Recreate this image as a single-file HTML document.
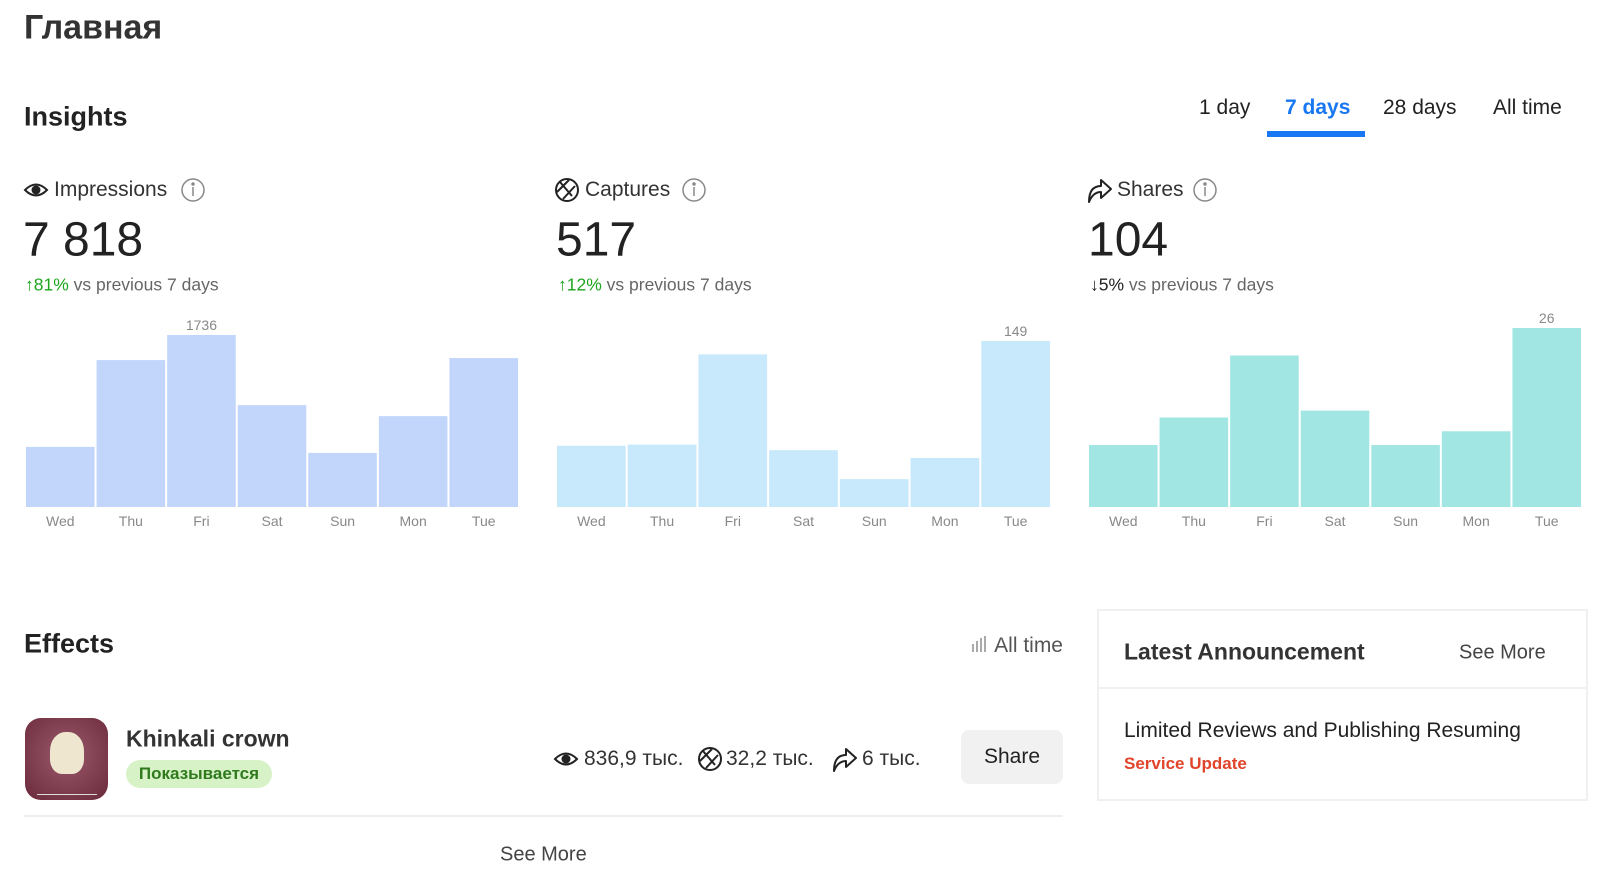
<!DOCTYPE html>
<html><head><meta charset="utf-8"><style>
body{margin:0;width:1600px;height:884px;background:#fff;font-family:"Liberation Sans","Noto Sans CJK SC",sans-serif;color:#222;position:relative;overflow:hidden}
.a{position:absolute;white-space:nowrap}
.t{transform:translateY(-50%)}
svg{position:absolute;left:0;top:0}
</style></head><body>
<div class="a t" style="left:24px;top:28px;font-size:34px;font-weight:bold;color:#333">Главная</div>
<div class="a t" style="left:24px;top:117px;font-size:27px;font-weight:bold;color:#222">Insights</div>
<div class="a t" style="left:1199px;top:108px;font-size:21px">1 day</div>
<div class="a t" style="left:1285px;top:108px;font-size:21px;color:#1877f2;font-weight:bold">7 days</div>
<div class="a" style="left:1267px;top:131px;width:98px;height:6px;background:#1877f2"></div>
<div class="a t" style="left:1383px;top:108px;font-size:21px">28 days</div>
<div class="a t" style="left:1493px;top:108px;font-size:21px">All time</div>

<svg width="1600" height="884">
 <g fill="none" stroke="#222" stroke-width="2"><path d="M25 190 Q36 179 47 190 Q36 201 25 190Z"/><circle cx="36" cy="190" r="3.5" fill="#222"/></g>
 <g stroke="#888" fill="none" stroke-width="1.5"><circle cx="193" cy="190" r="11"/><line x1="193" y1="187" x2="193" y2="196"/><circle cx="193" cy="184" r="1" fill="#888"/></g>
 <g stroke="#222" fill="none" stroke-width="2"><circle cx="567" cy="190" r="11"/><path d="M560 182 L572 196 M557 192 L569 180 M575 186 L563 199"/></g>
 <g stroke="#888" fill="none" stroke-width="1.5"><circle cx="694" cy="190" r="11"/><line x1="694" y1="187" x2="694" y2="196"/><circle cx="694" cy="184" r="1" fill="#888"/></g>
 <g stroke="#222" fill="none" stroke-width="2" stroke-linejoin="round"><path d="M1089 202 Q1089 186 1101 186 L1101 180 L1111 189 L1101 198 L1101 192 Q1093 192 1089 202Z"/></g>
 <g stroke="#888" fill="none" stroke-width="1.5"><circle cx="1205" cy="190" r="11"/><line x1="1205" y1="187" x2="1205" y2="196"/><circle cx="1205" cy="184" r="1" fill="#888"/></g>
 <g fill="#aaa"><rect x="972" y="644" width="2" height="8"/><rect x="976" y="641" width="2" height="11"/><rect x="980" y="638" width="2" height="14"/><rect x="984" y="636" width="2" height="16"/></g>
 <g fill="none" stroke="#222" stroke-width="2"><path d="M555 759 Q566 748 577 759 Q566 770 555 759Z"/><circle cx="566" cy="759" r="3.5" fill="#222"/></g>
 <g stroke="#222" fill="none" stroke-width="2"><circle cx="710" cy="759" r="11"/><path d="M703 751 L715 765 M700 761 L712 749 M718 755 L706 768"/></g>
 <g stroke="#222" fill="none" stroke-width="2" stroke-linejoin="round"><path d="M834 771 Q834 755 846 755 L846 749 L856 758 L846 767 L846 761 Q838 761 834 771Z"/></g>
 <g id="charts"></g>
</svg>

<div class="a t" style="left:54px;top:190px;font-size:21px;color:#333">Impressions</div>
<div class="a t" style="left:23px;top:240px;font-size:48px;color:#222">7 818</div>
<div class="a t" style="left:25px;top:285px;font-size:17.5px;color:#666"><span style="color:#1ea51e">↑81%</span> vs previous 7 days</div>
<div class="a t" style="left:585px;top:190px;font-size:21px;color:#333">Captures</div>
<div class="a t" style="left:556px;top:240px;font-size:48px;color:#222">517</div>
<div class="a t" style="left:558px;top:285px;font-size:17.5px;color:#666"><span style="color:#1ea51e">↑12%</span> vs previous 7 days</div>
<div class="a t" style="left:1117px;top:190px;font-size:21px;color:#333">Shares</div>
<div class="a t" style="left:1088px;top:240px;font-size:48px;color:#222">104</div>
<div class="a t" style="left:1090px;top:285px;font-size:17.5px;color:#666"><span style="color:#222">↓5%</span> vs previous 7 days</div>

<div class="a t" style="left:24px;top:644px;font-size:27px;font-weight:bold;color:#222">Effects</div>
<div class="a t" style="right:537px;top:646px;font-size:21px;color:#555">All time</div>
<div class="a" style="left:25px;top:718px;width:83px;height:82px;border-radius:16px;background:radial-gradient(circle at 50% 45%,#9a5a6c,#6a2a3c)">
 <div style="position:absolute;left:25px;top:14px;width:34px;height:42px;background:#efe6cf;border-radius:45% 45% 35% 35%"></div>
 <div style="position:absolute;left:12px;top:76px;width:60px;height:1px;background:#ddd"></div>
</div>
<div class="a t" style="left:126px;top:739px;font-size:23px;font-weight:bold;color:#333">Khinkali crown</div>
<div class="a" style="left:126px;top:760px;width:146px;height:28px;border-radius:14px;background:#d8f2c8;color:#2e7a1c;font-weight:bold;font-size:17px;line-height:28px;text-align:center">Показывается</div>
<div class="a t" style="left:584px;top:759px;font-size:21px;color:#333">836,9 тыс.</div>
<div class="a t" style="left:726px;top:759px;font-size:21px;color:#333">32,2 тыс.</div>
<div class="a t" style="left:862px;top:759px;font-size:21px;color:#333">6 тыс.</div>
<div class="a" style="left:961px;top:730px;width:102px;height:54px;border-radius:8px;background:#f1f1f1;font-size:21px;line-height:54px;text-align:center;color:#222">Share</div>
<div class="a" style="left:24px;top:815px;width:1039px;height:2px;background:#eee"></div>
<div class="a t" style="left:500px;top:855px;font-size:20px;color:#444">See More</div>

<div class="a" style="left:1097px;top:609px;width:487px;height:188px;border:2px solid #f0f0f0"></div>
<div class="a" style="left:1097px;top:687px;width:491px;height:2px;background:#f0f0f0"></div>
<div class="a t" style="left:1124px;top:652px;font-size:23px;font-weight:bold;color:#333">Latest Announcement</div>
<div class="a t" style="left:1459px;top:653px;font-size:20px;color:#444">See More</div>
<div class="a t" style="left:1124px;top:731px;font-size:21px;color:#222">Limited Reviews and Publishing Resuming</div>
<div class="a t" style="left:1124px;top:764px;font-size:17px;font-weight:bold;color:#e0442a">Service Update</div>

<script>
const days = ["Wed","Thu","Fri","Sat","Sun","Mon","Tue"];
const impressionsValues = [607,1483,1736,1028,546,917,1503];
const capturesValues = [55,56,137,51,25,44,149];
const sharesValues = [9,13,22,14,9,11,26];
const NS="http://www.w3.org/2000/svg";
const g=document.getElementById('charts');
function chart(name,vals,left,right,hMax,color){
  const base=507, n=vals.length, step=(right-left)/n, max=Math.max(...vals);
  const y=v=>base-v/max*hMax;
  vals.forEach((v,i)=>{
    const r=document.createElementNS(NS,'rect');
    r.setAttribute('x',left+i*step);r.setAttribute('width',step-2);
    r.setAttribute('y',y(v));r.setAttribute('height',base-y(v));r.setAttribute('fill',color);
    
    
    g.appendChild(r);
    const t=document.createElementNS(NS,'text');
    t.setAttribute('x',left+i*step+(step-2)/2);t.setAttribute('y',base+19);
    t.setAttribute('text-anchor','middle');t.setAttribute('font-size','14');t.setAttribute('fill','#888');
    t.setAttribute('font-family','Liberation Sans, sans-serif');t.textContent=days[i];
    
    
    g.appendChild(t);
    if(v===max){
      const l=document.createElementNS(NS,'text');
      l.setAttribute('x',left+i*step+(step-2)/2);l.setAttribute('y',y(v)-5);
      l.setAttribute('text-anchor','middle');l.setAttribute('font-size','14');l.setAttribute('fill','#888');
      l.setAttribute('font-family','Liberation Sans, sans-serif');l.textContent=v;
      
      
      g.appendChild(l);
    }
  });
}
chart('impressions',impressionsValues,26,520,172,'#c2d5fb');
chart('captures',capturesValues,557,1052,166,'#c7e9fb');
chart('shares',sharesValues,1089,1583,179,'#a1e6e3');
</script>
</body></html>
